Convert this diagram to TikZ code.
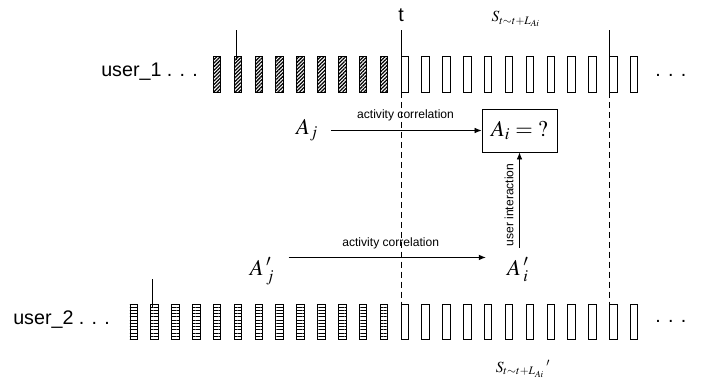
\documentclass[tikz,border=0pt]{standalone}
\usepackage{mathptmx}
\usepackage{fontspec}
\setmainfont{Liberation Sans}
\usetikzlibrary{arrows.meta, positioning, patterns.meta}

\begin{document}
\begin{tikzpicture}[x=0.025cm, y=-0.025cm,
    openbar/.style={draw, line width=0.6pt},
    hatchbar/.style={draw, line width=0.6pt,
      pattern={Lines[angle=45, distance=1.8pt, line width=0.9pt]}},
    stripebar/.style={draw, line width=0.6pt,
      pattern={Lines[angle=0, distance=2.3pt, line width=0.5pt]}},
    usertext/.style={font=\fontsize{14}{16}\selectfont, inner sep=0pt, anchor=base west},
    mathtext/.style={font=\fontsize{16}{18}\selectfont, inner sep=0pt, anchor=base},
    smalltext/.style={font=\fontsize{8.6}{10}\selectfont, inner sep=0pt},
    arrow/.style={-{Latex[length=5pt, width=4pt]}, line width=0.6pt},
    guide/.style={line width=0.6pt, dash pattern=on 4.3pt off 2.8pt}]
  \useasboundingbox (0,0) rectangle (701,388);

  % Row of user_1
  \node[usertext] (user1) at (101,76) {user\_1 . . .};
  \foreach \i in {1,...,9}
    \draw[hatchbar] ({401-20.85*\i},56) rectangle ++(7.5,36);
  \foreach \i in {0,...,11}
    \draw[openbar] ({401+20.85*\i},56) rectangle ++(7.5,36);
  \node[usertext] (more1) at (655,76) {. . .};
  \draw[line width=0.6pt] (236,30) -- (236,60);

  % Row of user_2
  \node[usertext] (user2) at (13,324) {user\_2 . . .};
  \foreach \i in {1,...,13}
    \draw[stripebar] ({401-20.85*\i},304) rectangle ++(7.5,35);
  \foreach \i in {0,...,11}
    \draw[openbar] ({401+20.85*\i},304) rectangle ++(7.5,35);
  \node[usertext] (more2) at (655,322) {. . .};
  \draw[line width=0.6pt] (152.5,279) -- (152.5,308);

  % Time window
  \node[font=\fontsize{14}{16}\selectfont, inner sep=0pt] (tlab) at (401,15) {t};
  \draw[line width=0.6pt] (401,30) -- (401,92);
  \draw[guide] (401,92) -- (401,304);
  \draw[line width=0.6pt] (609.5,30) -- (609.5,92);
  \draw[guide] (609.5,92) -- (609.5,304);
  \node[font=\fontsize{11}{13}\selectfont, inner sep=0pt] (wtop) at (516,19)
    {$S_{t\sim t+L_{Ai}}$};
  \node[font=\fontsize{11}{13}\selectfont, inner sep=0pt] (wbot) at (523,369)
    {${S_{t\sim t+L_{Ai}}}\,'$};

  % Activities
  \node[draw, line width=0.6pt, minimum width=1.875cm, minimum height=1.075cm,
        font=\fontsize{16}{18}\selectfont] (ai) at (519.5,130.5) {$A_i = {?}$};
  \node[mathtext] (aj) at (307,134) {$A_j$};
  \node[mathtext] (aj2) at (262,275) {$A\,{}'_j$};
  \node[mathtext] (ai2) at (518,275) {$A\,{}'_i$};

  % Arrows
  \draw[arrow, shorten <=9pt] (aj.east |- ai.west) -- (ai.west)
    node[smalltext, midway, above=6.5pt, xshift=4pt] {activity correlation};
  \draw[arrow, shorten <=10pt, shorten >=15pt] (aj2.north east) -- (aj2.north east -| ai2.west)
    node[smalltext, midway, above=6pt] {activity correlation};
  \draw[arrow, shorten <=7pt] (ai.south |- ai2.north) -- (ai.south)
    node[smalltext, midway, sloped, above=4pt] {user interaction};
\end{tikzpicture}
\end{document}
